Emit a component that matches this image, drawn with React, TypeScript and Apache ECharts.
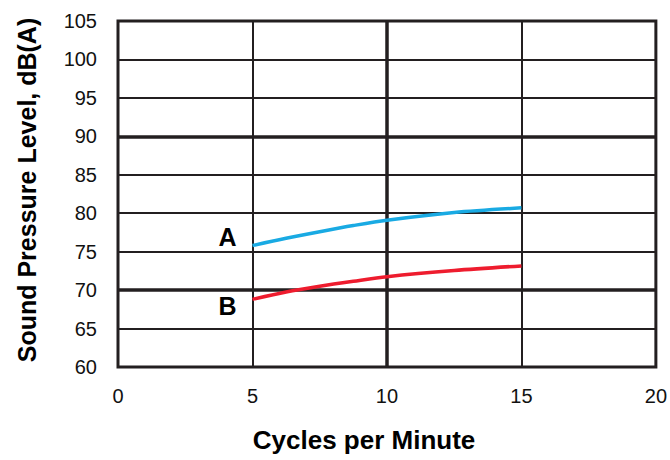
import React, { useEffect, useRef } from "react";
import * as echarts from "echarts";

const xTicks = [0, 5, 10, 15, 20];
const yTicks = [60, 65, 70, 75, 80, 85, 90, 95, 100, 105];
const cycles = [5, 6.25, 7.5, 8.75, 10, 12.5, 15];
const seriesA = [75.8, 76.75, 77.6, 78.4, 79.1, 80.1, 80.7];
const seriesB = [68.8, 69.75, 70.5, 71.15, 71.75, 72.55, 73.15];
const heavyY = [70, 90];
const heavyX = [10];
const labelA = { name: "A", x: 5, y: 75.8 };
const labelB = { name: "B", x: 5, y: 68.8 };

const FONT = "'Liberation Sans', Arial, Helvetica, sans-serif";
const INK = "#231f20";

export default function App() {
  const ref = useRef<HTMLDivElement>(null);
  useEffect(() => {
    if (!ref.current) return;
    const chart = echarts.init(ref.current, undefined, { renderer: "svg" });
    const pairs = (ys: number[]) => cycles.map((c, i) => [c, ys[i]]);
    chart.setOption({
      animation: false,
      grid: {
        left: 118,
        top: 21,
        right: 14,
        bottom: 93,
        show: true,
        borderColor: INK,
        borderWidth: 3,
        backgroundColor: "transparent",
      },
      xAxis: {
        type: "value",
        min: xTicks[0],
        max: xTicks[xTicks.length - 1],
        interval: 5,
        axisLine: { show: false },
        axisTick: { show: false },
        axisLabel: { color: "#111", fontSize: 20, fontFamily: FONT, margin: 19 },
        splitLine: { show: true, lineStyle: { color: INK, width: 2 } },
      },
      yAxis: {
        type: "value",
        min: yTicks[0],
        max: yTicks[yTicks.length - 1],
        interval: 5,
        axisLine: { show: false },
        axisTick: { show: false },
        axisLabel: { color: "#111", fontSize: 20, fontFamily: FONT, margin: 21 },
        splitLine: { show: true, lineStyle: { color: INK, width: 2 } },
      },
      graphic: [
        {
          type: "text",
          x: 364,
          y: 440,
          style: {
            text: "Cycles per Minute",
            font: `bold 26px ${FONT}`,
            fill: "#000",
            align: "center",
            verticalAlign: "middle",
          },
        },
        {
          type: "text",
          x: 27,
          y: 190,
          rotation: Math.PI / 2,
          style: {
            text: "Sound Pressure Level, dB(A)",
            font: `bold 25px ${FONT}`,
            fill: "#000",
            align: "center",
            verticalAlign: "middle",
          },
        },
      ],
      series: [
        {
          type: "line",
          data: [],
          silent: true,
          markLine: {
            silent: true,
            symbol: "none",
            z: 1,
            label: { show: false },
            lineStyle: { color: INK, width: 3.5, type: "solid" },
            data: [
              ...heavyY.map((v) => ({ yAxis: v })),
              ...heavyX.map((v) => ({ xAxis: v })),
            ],
          },
        },
        {
          name: "A",
          type: "line",
          smooth: 0.3,
          showSymbol: false,
          z: 5,
          lineStyle: { color: "#19aae3", width: 3.5 },
          data: pairs(seriesA),
          markPoint: {
            symbol: "circle",
            symbolSize: 0,
            data: [{ coord: [labelA.x, labelA.y] }],
            label: {
              show: true,
              formatter: labelA.name,
              position: "inside",
              offset: [-25, -9],
              color: "#000",
              fontWeight: "bold",
              fontSize: 25,
              fontFamily: FONT,
            },
          },
        },
        {
          name: "B",
          type: "line",
          smooth: 0.3,
          showSymbol: false,
          z: 5,
          lineStyle: { color: "#ee1c2e", width: 3.5 },
          data: pairs(seriesB),
          markPoint: {
            symbol: "circle",
            symbolSize: 0,
            data: [{ coord: [labelB.x, labelB.y] }],
            label: {
              show: true,
              formatter: labelB.name,
              position: "inside",
              offset: [-25, 7],
              color: "#000",
              fontWeight: "bold",
              fontSize: 25,
              fontFamily: FONT,
            },
          },
        },
      ],
    });
    return () => chart.dispose();
  }, []);
  return <div ref={ref} style={{ width: 670, height: 460, position: "absolute", left: 0, top: 0 }} />;
}
